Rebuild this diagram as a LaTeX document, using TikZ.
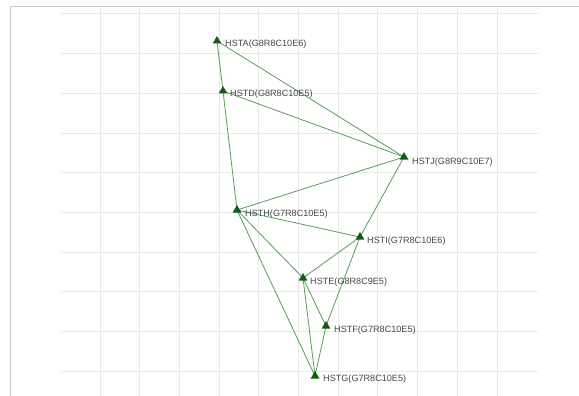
\documentclass[tikz,border=0pt]{standalone}
\usepackage{fontspec}
\setmainfont{Liberation Sans}
\usetikzlibrary{shapes.geometric}
\definecolor{gridc}{RGB}{232,232,232}
\definecolor{framec}{RGB}{200,200,200}
\definecolor{edgec}{RGB}{90,155,90}
\definecolor{tric}{RGB}{20,90,20}
\definecolor{labc}{RGB}{70,70,70}
\tikzset{
  station/.style={regular polygon,regular polygon sides=3,fill=tric,draw=none,
    inner sep=0pt,minimum size=10pt},
  stlabel/.style={anchor=west,inner sep=0pt,text=labc,font=\fontsize{9.1}{10}\selectfont},
  link/.style={draw=edgec,line width=0.8pt},
  gridline/.style={draw=gridc,line width=1pt},
}
\begin{document}
\begin{tikzpicture}[x=1pt,y=-1pt]
\useasboundingbox (0,0) rectangle (579,396);
\fill[white] (0,0) rectangle (579,396);
% frame
\draw[framec,line width=0.8pt] (10,396) -- (10,6.5) -- (579,6.5);
% grid
\foreach \x in {100,139.7,179.4,219.1,258.8,298.5,338.2,377.9,417.6,457.3,497}
  \draw[gridline] (\x,7) -- (\x,396);
\foreach \y in {14,53.7,93.4,133.1,172.8,212.5,252.2,291.9,331.6,371.3}
  \draw[gridline] (61,\y) -- (538,\y);
% station positions
\coordinate (A) at (217,41);
\coordinate (D) at (223,91);
\coordinate (J) at (404,157);
\coordinate (H) at (237,210);
\coordinate (I) at (360,237);
\coordinate (E) at (303,278);
\coordinate (F) at (326,326);
\coordinate (G) at (315,376);
% links
\draw[link] (A) -- (D);
\draw[link] (A) -- (J);
\draw[link] (D) -- (J);
\draw[link] (D) -- (H);
\draw[link] (H) -- (J);
\draw[link] (H) -- (I);
\draw[link] (H) -- (E);
\draw[link] (H) -- (G);
\draw[link] (J) -- (I);
\draw[link] (I) -- (F);
\draw[link] (I) -- (E);
\draw[link] (E) -- (F);
\draw[link] (E) -- (G);
\draw[link] (F) -- (G);
% station markers
\foreach \p in {A,D,J,H,I,E,F,G}
  \node[station] (t\p) at (\p) {};
% labels
\node[stlabel] (lA) at (225,44) {HSTA(G8R8C10E6)};
\node[stlabel] (lD) at (230,94) {HSTD(G8R8C10E5)};
\node[stlabel] (lJ) at (412,162) {HSTJ(G8R9C10E7)};
\node[stlabel] (lH) at (245,214) {HSTH(G7R8C10E5)};
\node[stlabel] (lI) at (367,241) {HSTI(G7R8C10E6)};
\node[stlabel] (lE) at (310,282) {HSTE(G8R8C9E5)};
\node[stlabel] (lF) at (334,330) {HSTF(G7R8C10E5)};
\node[stlabel] (lG) at (323,379) {HSTG(G7R8C10E5)};
\end{tikzpicture}
\end{document}
